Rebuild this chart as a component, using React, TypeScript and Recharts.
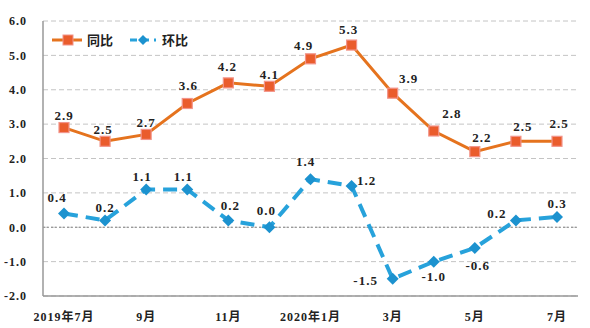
import { CartesianGrid, Line, LineChart, ReferenceLine, XAxis, YAxis, LabelList } from "recharts"

const months = [
  "2019年7月", "8月", "9月", "10月", "11月", "12月",
  "2020年1月", "2月", "3月", "4月", "5月", "6月", "7月",
]
const yoy = [2.9, 2.5, 2.7, 3.6, 4.2, 4.1, 4.9, 5.3, 3.9, 2.8, 2.2, 2.5, 2.5]
const mom = [0.4, 0.2, 1.1, 1.1, 0.2, 0.0, 1.4, 1.2, -1.5, -1.0, -0.6, 0.2, 0.3]
const yTicks = [-2, -1, 0, 1, 2, 3, 4, 5, 6]

// where each value label sits relative to its point (label style, not data)
const YOY_LABEL_OFFSET = [
  [0, -12], [-2, -12], [0, -12], [1, -18], [-1, -16], [0, -12], [-7, -13],
  [-3, -16], [16, -15], [18, -18], [7, -14], [7, -15], [2, -18],
]
const MOM_LABEL_OFFSET = [
  [-7, -16], [0, -13], [-4, -13], [-4, -13], [2, -15], [-3, -17], [-5, -18],
  [15, -6], [-27, 2], [0, 15], [3, 18], [-19, -7], [0, -13],
]

const FONT = "Liberation Serif, DejaVu Serif, Noto Sans CJK SC, serif"
const ORANGE = "#E5731E"
const BLUE = "#27A2DB"

const data = months.map((m, i) => ({ month: m, yoy: yoy[i], mom: mom[i] }))

function makeLabel(offsets: number[][]) {
  return (props: any) => {
    const { x, y, value, index } = props
    const [dx, dy] = offsets[index] ?? [0, -14]
    return (
      <text
        x={x + dx}
        y={y + dy}
        textAnchor="middle"
        dominantBaseline="central"
        style={{ fontFamily: FONT, fontWeight: "bold", fontSize: 13, letterSpacing: 1 }}
        fill="#222"
      >
        {Number(value).toFixed(1)}
      </text>
    )
  }
}

function SquareDot(props: any) {
  const { cx, cy } = props
  if (cx == null || cy == null) return null
  return <rect x={cx - 5} y={cy - 5} width={10} height={10} fill="#EA5C2C" stroke="#F2948A" strokeWidth={1.2} />
}

function DiamondDot(props: any) {
  const { cx, cy } = props
  if (cx == null || cy == null) return null
  return <polygon points={`${cx},${cy - 6} ${cx + 6},${cy} ${cx},${cy + 6} ${cx - 6},${cy}`} fill="#1C92CF" />
}

function LegendBox() {
  const txt = { style: { fontFamily: FONT, fontWeight: "bold" as const, fontSize: 13 }, fill: "#222" }
  return (
    <svg width={150} height={20} style={{ position: "absolute", left: 50, top: 30 }}>
      <line x1={2} y1={10} x2={32} y2={10} stroke={ORANGE} strokeWidth={3} />
      <rect x={13} y={5} width={10} height={10} fill="#EA5C2C" stroke="#F2948A" />
      <text x={37} y={10} dominantBaseline="central" {...txt}>同比</text>
      <line x1={80} y1={10} x2={106} y2={10} stroke={BLUE} strokeWidth={3} strokeDasharray="7 5" />
      <polygon points="93,5 98,10 93,15 88,10" fill="#1C92CF" />
      <text x={112} y={10} dominantBaseline="central" {...txt}>环比</text>
    </svg>
  )
}

export default function App() {
  const tick = { style: { fontFamily: FONT, fontWeight: "bold", fontSize: 12, letterSpacing: 1 }, fill: "#222" }
  const pad = { left: 21, right: 21 }
  return (
    <div style={{ position: "absolute", left: 0, top: 0, width: 590, height: 328, background: "#fff" }}>
      <LineChart width={590} height={328} data={data} margin={{ top: 21, right: 12, left: 0, bottom: 0 }}>
        <CartesianGrid vertical={false} stroke="#c4c4c4" strokeDasharray="5 3" />
        <ReferenceLine y={0} stroke="#888" strokeDasharray="2 2" />
        <XAxis
          dataKey="month"
          interval={1}
          padding={pad}
          tickLine={false}
          axisLine={{ stroke: "#999", strokeWidth: 1.5 }}
          tick={tick}
          tickMargin={10}
          height={32}
        />
        <XAxis xAxisId="top" orientation="top" dataKey="month" padding={pad} tick={false} tickLine={false} height={0} axisLine={{ stroke: "#999", strokeWidth: 2 }} />
        <YAxis
          domain={[-2, 6]}
          ticks={yTicks}
          tickFormatter={(v) => Number(v).toFixed(1)}
          tickLine={false}
          axisLine={{ stroke: "#999", strokeWidth: 1.5 }}
          tick={tick}
          tickMargin={10}
          width={43}
        />
        <YAxis yAxisId="right" orientation="right" domain={[-2, 6]} tick={false} tickLine={false} width={0} axisLine={{ stroke: "#999", strokeWidth: 1.5 }} />
        <Line
          dataKey="yoy"
          name="同比"
          stroke={ORANGE}
          strokeWidth={3}
          dot={<SquareDot />}
          activeDot={false}
          isAnimationActive={false}
        >
          <LabelList dataKey="yoy" content={makeLabel(YOY_LABEL_OFFSET)} />
        </Line>
        <Line
          dataKey="mom"
          name="环比"
          stroke={BLUE}
          strokeWidth={4}
          strokeDasharray="14 8"
          dot={<DiamondDot />}
          activeDot={false}
          isAnimationActive={false}
        >
          <LabelList dataKey="mom" content={makeLabel(MOM_LABEL_OFFSET)} />
        </Line>
      </LineChart>
      <LegendBox />
    </div>
  )
}
